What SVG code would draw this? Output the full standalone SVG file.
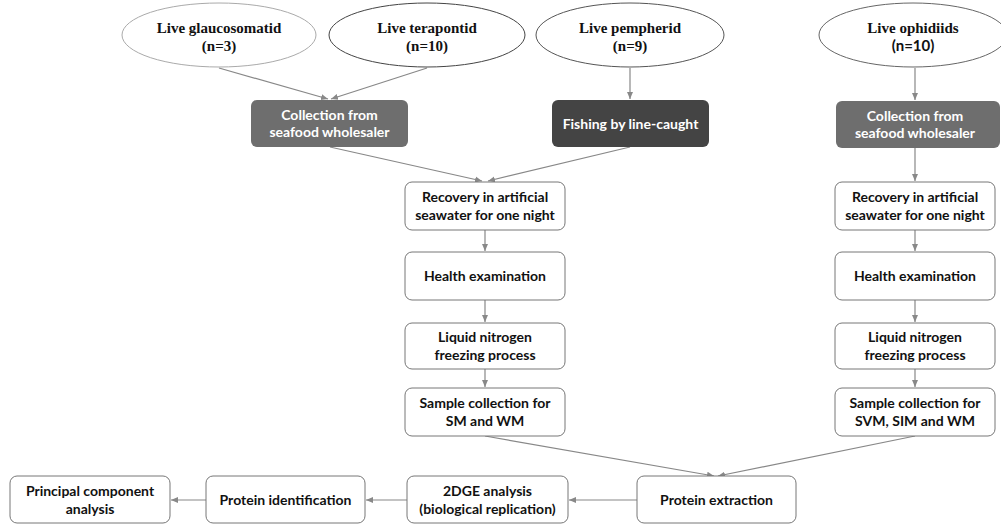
<svg xmlns="http://www.w3.org/2000/svg" width="1001" height="524" viewBox="0 0 1001 524">
<style>
.ell{fill:#fff;stroke-width:1}
.et{font-family:"Liberation Serif",serif;font-weight:bold;font-size:15px;fill:#111;text-anchor:middle}
.dk{stroke:none}
.wt{font-family:Lato,"Liberation Sans",sans-serif;font-weight:bold;font-size:14px;fill:#fff;text-anchor:middle}
.bx{fill:#fff;stroke:#777;stroke-width:1}
.bt{font-family:Lato,"Liberation Sans",sans-serif;font-weight:bold;font-size:14px;fill:#111;text-anchor:middle}
.cn{stroke:#888;stroke-width:1.2;fill:none;marker-end:url(#ah)}
</style>
<defs>
<marker id="ah" markerWidth="8" markerHeight="8" refX="7" refY="4" orient="auto" markerUnits="userSpaceOnUse">
<path d="M0,1 L7,4 L0,7 Z" fill="#888"/>
</marker>
</defs>
<rect width="1001" height="524" fill="#fff"/>
<g id="connectors">
<line class="cn" x1="219" y1="68" x2="328" y2="99"/>
<line class="cn" x1="427" y1="68" x2="331" y2="99"/>
<line class="cn" x1="630" y1="68" x2="630" y2="99"/>
<line class="cn" x1="915" y1="68" x2="915" y2="100"/>
<line class="cn" x1="330" y1="147" x2="482" y2="181"/>
<line class="cn" x1="630" y1="147" x2="488" y2="181"/>
<line class="cn" x1="915" y1="148" x2="915" y2="181"/>
<line class="cn" x1="485" y1="230" x2="485" y2="251"/>
<line class="cn" x1="485" y1="300" x2="485" y2="322"/>
<line class="cn" x1="485" y1="369" x2="485" y2="387"/>
<line class="cn" x1="915" y1="230" x2="915" y2="251"/>
<line class="cn" x1="915" y1="300" x2="915" y2="322"/>
<line class="cn" x1="915" y1="369" x2="915" y2="387"/>
<line class="cn" x1="485" y1="436" x2="714" y2="476"/>
<line class="cn" x1="915" y1="436" x2="718" y2="476"/>
<line class="cn" x1="637" y1="500" x2="569" y2="500"/>
<line class="cn" x1="407" y1="500" x2="366" y2="500"/>
<line class="cn" x1="206" y1="500" x2="171" y2="500"/>
</g>
<g id="n-glauco">
<ellipse class="ell" cx="219" cy="35" rx="97" ry="32" stroke="#aaa"/>
<text class="et" x="219" y="33">Live glaucosomatid</text>
<text class="et" x="219" y="51">(n=3)</text>
</g>
<g id="n-terapontid">
<ellipse class="ell" cx="427" cy="35" rx="98" ry="32" stroke="#444"/>
<text class="et" x="427" y="33">Live terapontid</text>
<text class="et" x="427" y="51">(n=10)</text>
</g>
<g id="n-pempherid">
<ellipse class="ell" cx="630" cy="35" rx="94" ry="32" stroke="#555"/>
<text class="et" x="630" y="33">Live pempherid</text>
<text class="et" x="630" y="51">(n=9)</text>
</g>
<g id="n-ophidiids">
<ellipse class="ell" cx="913" cy="35" rx="94" ry="32" stroke="#666"/>
<text class="et" x="913" y="33">Live ophidiids</text>
<text class="bt" x="913" y="51" style="font-size:15px">(n=10)</text>
</g>
<g id="n-coll-left">
<rect class="dk" x="251" y="100" width="157" height="47" rx="6" fill="#6e6e6e"/>
<text class="wt" x="329.5" y="120">Collection from</text>
<text class="wt" x="329.5" y="137">seafood wholesaler</text>
</g>
<g id="n-fishing">
<rect class="dk" x="552" y="100" width="157" height="47" rx="6" fill="#444"/>
<text class="wt" x="630.5" y="129">Fishing by line-caught</text>
</g>
<g id="n-coll-right">
<rect class="dk" x="836" y="101" width="164" height="47" rx="6" fill="#6e6e6e"/>
<text class="wt" x="915" y="121">Collection from</text>
<text class="wt" x="915" y="138">seafood wholesaler</text>
</g>
<g id="n-recovery-m">
<rect class="bx" x="405" y="182" width="160" height="48" rx="7"/>
<text class="bt" x="485" y="202">Recovery in artificial</text>
<text class="bt" x="485" y="220">seawater for one night</text>
</g>
<g id="n-health-m">
<rect class="bx" x="405" y="252" width="160" height="48" rx="7"/>
<text class="bt" x="485" y="281">Health examination</text>
</g>
<g id="n-liquid-m">
<rect class="bx" x="405" y="323" width="160" height="46" rx="7"/>
<text class="bt" x="485" y="342">Liquid nitrogen</text>
<text class="bt" x="485" y="360">freezing process</text>
</g>
<g id="n-sample-m">
<rect class="bx" x="405" y="388" width="160" height="48" rx="7"/>
<text class="bt" x="485" y="408">Sample collection for</text>
<text class="bt" x="485" y="426">SM and WM</text>
</g>
<g id="n-recovery-r">
<rect class="bx" x="835" y="182" width="160" height="48" rx="7"/>
<text class="bt" x="915" y="202">Recovery in artificial</text>
<text class="bt" x="915" y="220">seawater for one night</text>
</g>
<g id="n-health-r">
<rect class="bx" x="835" y="252" width="160" height="48" rx="7"/>
<text class="bt" x="915" y="281">Health examination</text>
</g>
<g id="n-liquid-r">
<rect class="bx" x="835" y="323" width="160" height="46" rx="7"/>
<text class="bt" x="915" y="342">Liquid nitrogen</text>
<text class="bt" x="915" y="360">freezing process</text>
</g>
<g id="n-sample-r">
<rect class="bx" x="835" y="388" width="160" height="48" rx="7"/>
<text class="bt" x="915" y="408">Sample collection for</text>
<text class="bt" x="915" y="426">SVM, SIM and WM</text>
</g>
<g id="n-extraction">
<rect class="bx" x="637" y="476" width="159" height="47" rx="7"/>
<text class="bt" x="716.5" y="505">Protein extraction</text>
</g>
<g id="n-2dge">
<rect class="bx" x="407" y="476" width="161" height="47" rx="7"/>
<text class="bt" x="487.5" y="496">2DGE analysis</text>
<text class="bt" x="487.5" y="514">(biological replication)</text>
</g>
<g id="n-protid">
<rect class="bx" x="206" y="476" width="159" height="47" rx="7"/>
<text class="bt" x="285.5" y="505">Protein identification</text>
</g>
<g id="n-pca">
<rect class="bx" x="10" y="476" width="160" height="47" rx="7"/>
<text class="bt" x="90" y="496">Principal component</text>
<text class="bt" x="90" y="514">analysis</text>
</g>
</svg>
